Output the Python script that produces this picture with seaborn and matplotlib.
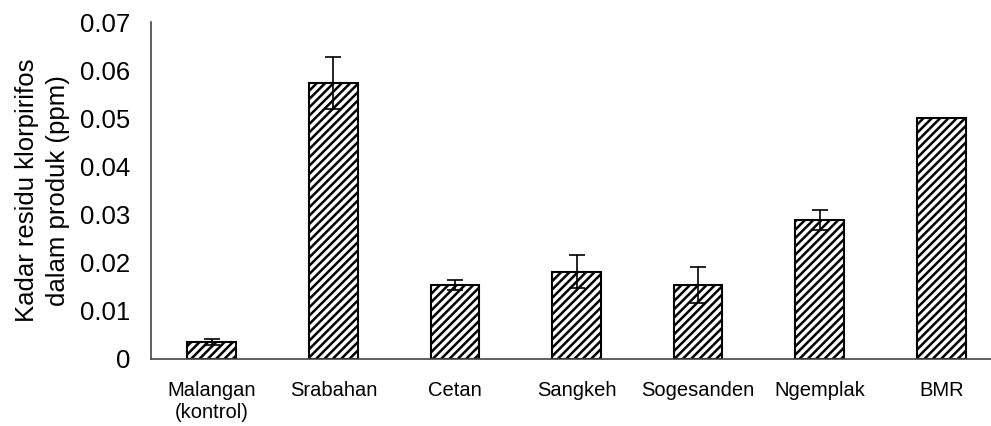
import matplotlib
matplotlib.use("Agg")
import matplotlib.pyplot as plt
import pandas as pd
import seaborn as sns

# Data
lokasi = ['Malangan\n(kontrol)', 'Srabahan', 'Cetan', 'Sangkeh', 'Sogesanden', 'Ngemplak', 'BMR']
kadar = [0.0036, 0.0574, 0.0154, 0.0181, 0.0154, 0.0289, 0.0500]
galat = [0.0006, 0.0054, 0.0010, 0.0034, 0.0038, 0.0021, 0.0]

df = pd.DataFrame({'Lokasi': lokasi, 'Kadar': kadar})

sns.set_style("white")
plt.rcParams['font.family'] = ['Liberation Sans', 'DejaVu Sans']
plt.rcParams['hatch.linewidth'] = 1.8
plt.rcParams['hatch.color'] = 'black'
plt.rcParams['text.color'] = 'black'
plt.rcParams['axes.labelcolor'] = 'black'

fig = plt.figure(figsize=(9.91, 4.26), dpi=100)
ax = fig.add_axes([151 / 991, 67 / 426, 851 / 991, 337 / 426])

sns.barplot(data=df, x='Lokasi', y='Kadar', ax=ax, color='white', width=0.4,
            edgecolor='black', linewidth=1.5, hatch='////')
ax.errorbar(range(len(kadar)), kadar, yerr=galat, fmt='none', ecolor='black',
            elinewidth=1.2, capsize=5.5, capthick=1.2)

ax.set_xlim(-0.5, 6.5)
ax.set_ylim(0, 0.07)
ax.set_yticks([0, 0.01, 0.02, 0.03, 0.04, 0.05, 0.06, 0.07])
ax.set_yticklabels(['0', '0.01', '0.02', '0.03', '0.04', '0.05', '0.06', '0.07'], fontsize=18.5)
ax.set_xticks(range(len(lokasi)))
ax.set_xticklabels(lokasi, fontsize=14.5)
ax.set_xticks([i - 0.5 for i in range(len(lokasi) + 1)], minor=True)
ax.tick_params(axis='x', which='major', length=0, pad=15.5, labelcolor='black')
ax.tick_params(axis='x', which='minor', length=5, width=1, color='#555555', direction='out')
ax.tick_params(axis='y', length=6, width=1, color='#555555', direction='out', pad=9,
               labelcolor='black')

ax.set_xlabel('')
ax.set_ylabel('Kadar residu klorpirifos\ndalam produk (ppm)', fontsize=18.5, labelpad=7,
              linespacing=1.4)

for s in ['top', 'right']:
    ax.spines[s].set_visible(False)
for s in ['left', 'bottom']:
    ax.spines[s].set_color('#444444')
    ax.spines[s].set_linewidth(1.2)
ax.spines['bottom'].set_clip_on(False)

fig.savefig('out.png', dpi=100)
